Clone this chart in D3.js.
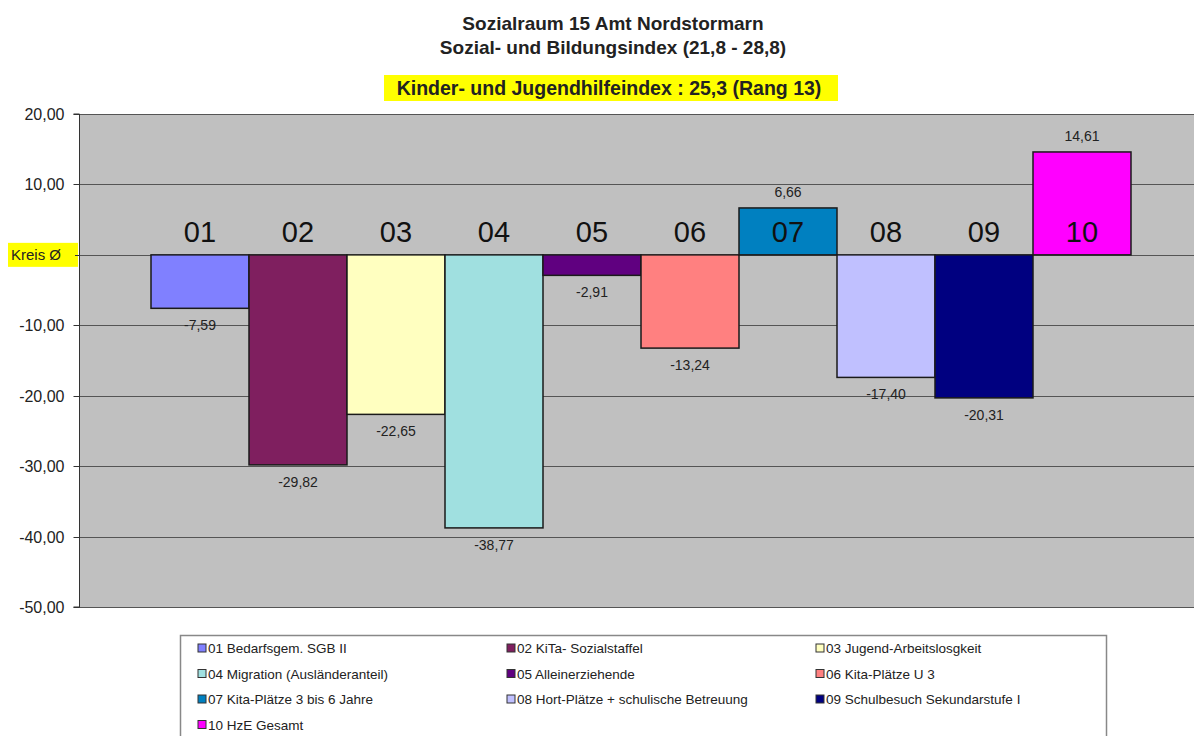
<!DOCTYPE html>
<html>
<head>
<meta charset="utf-8">
<script src="https://cdn.jsdelivr.net/npm/d3@7"></script>
<style>
  html, body { margin: 0; padding: 0; background: #fff; }
  svg { display: block; font-family: "Liberation Sans", Arial, sans-serif; }
</style>
</head>
<body>
<svg id="chart" width="1194" height="736"></svg>
<script>
// ---- data ----
const codes = ["01", "02", "03", "04", "05", "06", "07", "08", "09", "10"];
const seriesNames = [
  "01 Bedarfsgem. SGB II",
  "02 KiTa- Sozialstaffel",
  "03 Jugend-Arbeitslosgkeit",
  "04 Migration (Ausländeranteil)",
  "05 Alleinerziehende",
  "06 Kita-Plätze U 3",
  "07 Kita-Plätze  3 bis 6 Jahre",
  "08 Hort-Plätze + schulische Betreuung",
  "09 Schulbesuch Sekundarstufe I",
  "10 HzE Gesamt"
];
const values = [-7.59, -29.82, -22.65, -38.77, -2.91, -13.24, 6.66, -17.40, -20.31, 14.61];
const colors = ["#8080FF", "#7F1F5F", "#FFFFC0", "#A0E0E0", "#600080", "#FF8080", "#0080C0", "#C0C0FF", "#000080", "#FF00FF"];
const yTicks = [20, 10, 0, -10, -20, -30, -40, -50];
const titleLines = ["Sozialraum 15 Amt Nordstormarn", "Sozial- und Bildungsindex (21,8 - 28,8)"];
const subtitle = "Kinder- und Jugendhilfeindex : 25,3 (Rang 13)";
const zeroLabel = "Kreis Ø";

// ---- setup ----
const svg = d3.select("#chart");
const de = d3.formatLocale({decimal: ",", thousands: ".", grouping: [3], currency: ["", " €"], minus: "-"});
const fmt = de.format(".2f");

const plot = {left: 79, right: 1203, top: 114, bottom: 607};
const y = d3.scaleLinear().domain([-50, 20]).range([plot.bottom, plot.top]);
const x = d3.scaleBand().domain(codes).range([151, 1131]).padding(0);

// plot background
svg.append("rect")
  .attr("x", plot.left).attr("y", plot.top)
  .attr("width", plot.right - plot.left).attr("height", plot.bottom - plot.top)
  .attr("fill", "#C0C0C0");

// gridlines
svg.append("g").selectAll("line").data(yTicks).join("line")
  .attr("x1", plot.left).attr("x2", plot.right)
  .attr("y1", d => Math.round(y(d)) + 0.5).attr("y2", d => Math.round(y(d)) + 0.5)
  .attr("stroke", "#555").attr("stroke-width", 1.2);

// y axis
const yAxis = d3.axisLeft(y).tickValues(yTicks.filter(d => d !== 0))
  .tickFormat(d => fmt(d)).tickSize(6).tickPadding(9);
const ga = svg.append("g").attr("transform", `translate(${plot.left + 0.5},0)`).call(yAxis);
ga.select(".domain").attr("stroke", "#333").attr("d", `M-6,${plot.top}H0V${plot.bottom}H-6`);
ga.selectAll(".tick line").attr("stroke", "#333");
ga.selectAll(".tick text").attr("font-size", 16).attr("fill", "#222")
  .attr("font-family", "'Liberation Sans', Arial, sans-serif");
ga.selectAll(".tick")
  .attr("transform", d => `translate(0,${Math.round(y(d)) + 0.5})`);

// zero label
const zy = y(0);
svg.append("rect").attr("x", 8).attr("y", zy - 12).attr("width", 70).attr("height", 24).attr("fill", "#FFFF00");
svg.append("text").attr("x", 11).attr("y", zy + 5).attr("font-size", 15).attr("fill", "#222").text(zeroLabel);
svg.append("line").attr("x1", plot.left - 4).attr("x2", plot.left).attr("y1", Math.round(zy) + 0.5).attr("y2", Math.round(zy) + 0.5).attr("stroke", "#333");

// bars
svg.append("g").selectAll("rect").data(values).join("rect")
  .attr("x", (d, i) => x(codes[i]))
  .attr("y", d => y(Math.max(0, d)))
  .attr("width", x.bandwidth())
  .attr("height", d => Math.abs(y(d) - y(0)))
  .attr("fill", (d, i) => colors[i])
  .attr("stroke", "#1a1a1a").attr("stroke-width", 1.5);

// value labels
svg.append("g").selectAll("text").data(values).join("text")
  .attr("x", (d, i) => x(codes[i]) + x.bandwidth() / 2)
  .attr("y", d => d < 0 ? y(d) + 22 : y(d) - 11)
  .attr("text-anchor", "middle").attr("font-size", 14).attr("fill", "#222")
  .text(d => fmt(d));

// category labels
svg.append("g").selectAll("text").data(codes).join("text")
  .attr("x", d => x(d) + x.bandwidth() / 2)
  .attr("y", 242)
  .attr("text-anchor", "middle").attr("font-size", 29).attr("fill", "#111")
  .text(d => d);

// titles
svg.append("g").selectAll("text").data(titleLines).join("text")
  .attr("x", 613).attr("y", (d, i) => 30 + i * 24)
  .attr("text-anchor", "middle").attr("font-size", 19).attr("font-weight", "bold").attr("fill", "#222")
  .text(d => d);
svg.append("rect").attr("x", 384).attr("y", 75).attr("width", 454).attr("height", 26).attr("fill", "#FFFF00");
svg.append("text").attr("x", 609).attr("y", 95).attr("text-anchor", "middle")
  .attr("font-size", 19.5).attr("font-weight", "bold").attr("fill", "#222").text(subtitle);

// legend
svg.append("rect").attr("x", 180.5).attr("y", 635.5).attr("width", 926).attr("height", 120)
  .attr("fill", "#fff").attr("stroke", "#888").attr("stroke-width", 1.5);
const lg = svg.append("g").selectAll("g").data(seriesNames).join("g")
  .attr("transform", (d, i) => `translate(${198 + (i % 3) * 309},${648 + Math.floor(i / 3) * 25.5})`);
lg.append("rect").attr("x", 0).attr("y", -4).attr("width", 8).attr("height", 8)
  .attr("fill", (d, i) => colors[i]).attr("stroke", "#333").attr("stroke-width", 1);
lg.append("text").attr("x", 10).attr("y", 5).attr("font-size", 13.5).attr("fill", "#222").text(d => d);
</script>
</body>
</html>
